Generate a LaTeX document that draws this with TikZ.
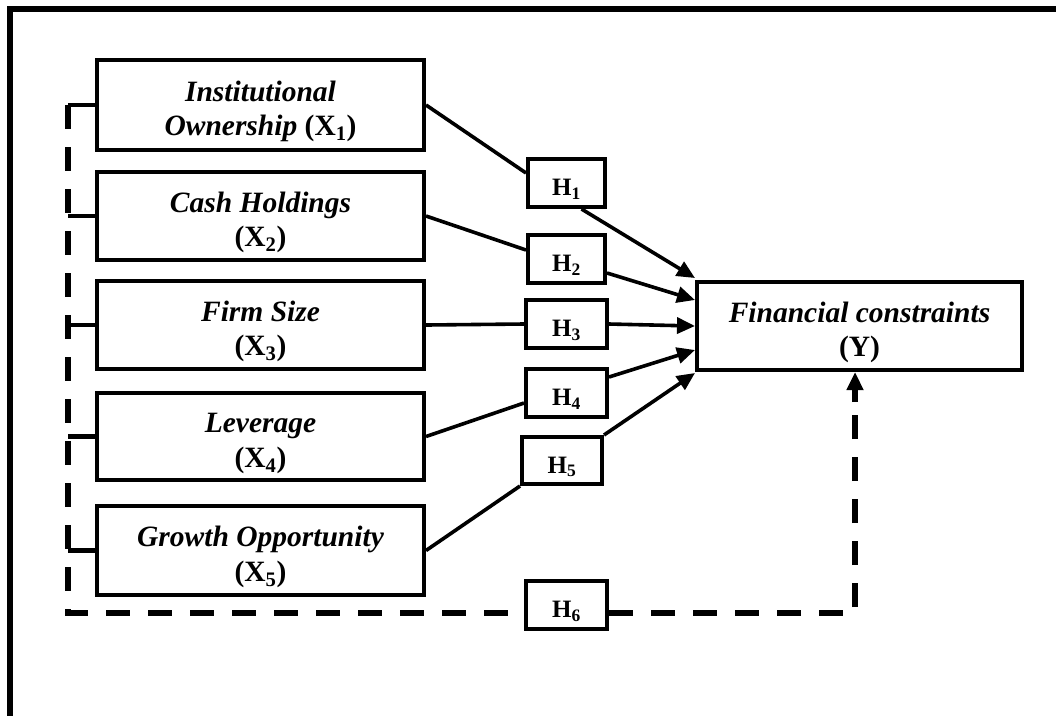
\documentclass[tikz,border=0pt]{standalone}
\usepackage{fontspec}
\setmainfont{Liberation Serif}
\usetikzlibrary{arrows.meta,calc}
\newcommand{\vdn}{\rule{0pt}{33pt}}
\newcommand{\hdn}{\rule{0pt}{29pt}}
\begin{document}
\begin{tikzpicture}[x=1pt,y=-1pt,
  varbox/.style={draw,line width=4pt,inner sep=0pt,align=center,
    font=\fontsize{29.5}{34.5}\selectfont\bfseries},
  hbox/.style={draw,line width=4pt,inner sep=0pt,align=center,
    font=\fontsize{25}{28}\selectfont\bfseries},
  conn/.style={line width=3.6pt},
  arr/.style={line width=3.6pt,-{Triangle[length=18pt,width=16pt]}},
  dashline/.style={line width=6pt,dash pattern=on 24pt off 18pt},
  stub/.style={line width=4.5pt},
  frame/.style={line width=6.5pt}]
\useasboundingbox (0,0) rectangle (1056,716);
% outer frame (top and left edges)
\coordinate (f0) at (10,9);
\coordinate (f1) at (1056,9);
\coordinate (f2) at (10,716);
\draw[frame] (f1) -- (f0) -- (f2);
% variable boxes
\node[varbox,minimum width=327pt,minimum height=90pt] (X1) at (260.5,105)
  {\vdn{\itshape Institutional}\\{\itshape Ownership} (X\textsubscript{1})};
\node[varbox,minimum width=327pt,minimum height=88pt] (X2) at (260.5,216)
  {\vdn{\itshape Cash Holdings}\\(X\textsubscript{2})};
\node[varbox,minimum width=327pt,minimum height=88pt] (X3) at (260.5,325)
  {\vdn{\itshape Firm Size}\\(X\textsubscript{3})};
\node[varbox,minimum width=327pt,minimum height=87pt] (X4) at (260.5,436.5)
  {\vdn{\itshape Leverage}\\(X\textsubscript{4})};
\node[varbox,minimum width=327pt,minimum height=89pt] (X5) at (260.5,550.5)
  {\vdn{\itshape Growth Opportunity}\\(X\textsubscript{5})};
\node[varbox,minimum width=325pt,minimum height=88pt] (Y) at (859.5,326)
  {\vdn{\itshape Financial constraints}\\(Y)};
% hypothesis boxes
\node[hbox,minimum width=77pt,minimum height=48pt] (H1) at (566.5,183) {\hdn H\textsubscript{1}};
\node[hbox,minimum width=77pt,minimum height=48pt] (H2) at (566.5,259) {\hdn H\textsubscript{2}};
\node[hbox,minimum width=81pt,minimum height=48pt] (H3) at (566.5,324) {\hdn H\textsubscript{3}};
\node[hbox,minimum width=81pt,minimum height=48pt] (H4) at (566.5,393) {\hdn H\textsubscript{4}};
\node[hbox,minimum width=80pt,minimum height=47pt] (H5) at (562,460.5) {\hdn H\textsubscript{5}};
\node[hbox,minimum width=81pt,minimum height=48pt] (H6) at (566.5,605) {\hdn H\textsubscript{6}};
% solid connectors
\draw[conn] (X1.east) -- ($(H1.west)+(0,-10)$);
\draw[arr] ($(H1.south)+(15,0)$) -- ($(Y.west)+(0,-48)$);
\draw[conn] (X2.east) -- ($(H2.west)+(0,-9)$);
\draw[arr] ($(H2.east)+(0,14)$) -- ($(Y.west)+(0,-26)$);
\draw[conn] (X3.east) -- (H3.west);
\draw[arr] (H3.east) -- (Y.west);
\draw[conn] (X4.east) -- ($(H4.west)+(0,10)$);
\draw[arr] ($(H4.east)+(0,-16)$) -- ($(Y.west)+(0,24)$);
\draw[conn] (X5.east) -- (H5.south west);
\draw[arr] (H5.north east) -- ($(Y.west)+(0,47)$);
% dashed moderation path
\coordinate (tl) at (68,105);
\coordinate (bl) at (68,613);
\coordinate (br) at (855,613);
\foreach \n in {X1,X2,X3,X4,X5}{
  \draw[stub] (\n.west) -- (\n.west -| tl);
}
\draw[dashline] (tl) -- (bl) -- (H6.west |- bl);
\draw[dashline] (H6.east |- br) -- (br) -- ($(Y.south -| br)+(0,30)$);
\draw[line width=6pt,-{Triangle[length=18pt,width=16pt]}] ($(Y.south -| br)+(0,30)$) -- (Y.south -| br);
\end{tikzpicture}
\end{document}
